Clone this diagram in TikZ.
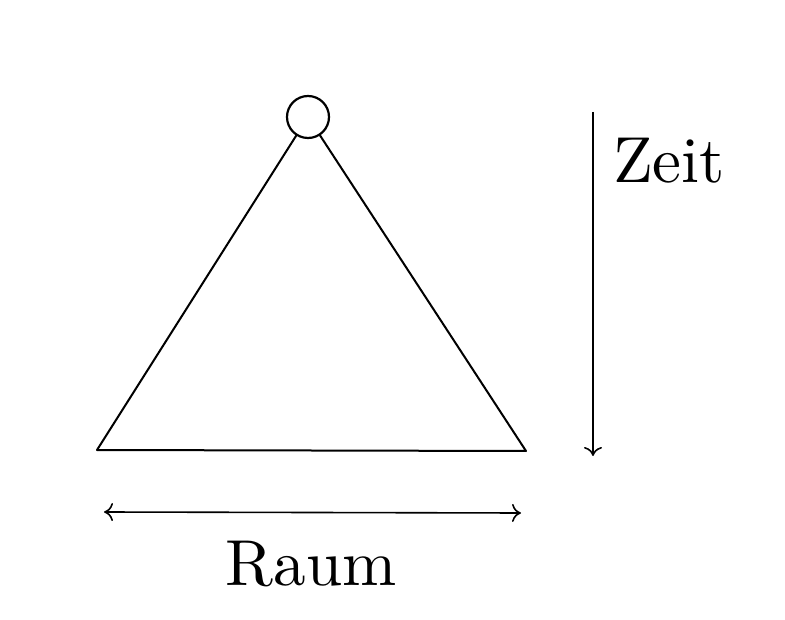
\documentclass[tikz,border=0pt]{standalone}
\usetikzlibrary{arrows.meta}
\begin{document}
\begin{tikzpicture}[x=1pt,y=-1pt,
  edge/.style={line width=2pt,line cap=round,line join=round},
  axis/.style={line width=1.6pt,-{To[length=9pt,width=18pt]}},
  dbl/.style={line width=1.6pt,{To[length=9pt,width=18pt]}-{To[length=9pt,width=18pt]}},
  lbl/.style={inner sep=0pt,outer sep=0pt}]
\useasboundingbox (0,0) rectangle (785,620);
\node[draw,circle,line width=2.2pt,minimum size=42pt,inner sep=0pt] (c) at (308,117) {};
\coordinate (bl) at (97,450);
\coordinate (br) at (526,451);
\draw[edge] (c) -- (bl) -- (br) -- (c);
\coordinate (zt) at (593,112);
\coordinate (zb) at (593,456);
\draw[axis] (zt) -- (zb);
\node[lbl,anchor=base west] (zeit) at (613,183) {\scalebox{6.5}{Zeit}};
\coordinate (rl) at (104,512);
\coordinate (rr) at (521,513);
\draw[dbl] (rl) -- (rr);
\node[lbl,anchor=base] (raum) at (311,585) {\scalebox{6.5}{Raum}};
\end{tikzpicture}
\end{document}
